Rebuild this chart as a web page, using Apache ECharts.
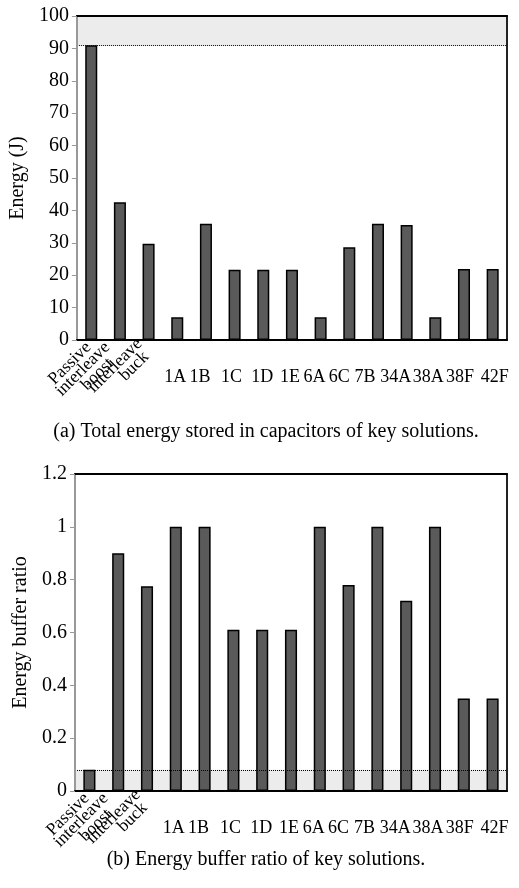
<!DOCTYPE html>
<html>
<head>
<meta charset="utf-8">
<script src="https://cdn.jsdelivr.net/npm/echarts@6/dist/echarts.min.js"></script>
<style>
html,body{margin:0;padding:0;background:#fff;}
#chart{width:519px;height:888px;}
</style>
</head>
<body>
<div id="chart"></div>
<script>
var categories = ['Passive', 'interleave\nboost', 'interleave\nbuck', '1A', '1B', '1C', '1D', '1E', '6A', '6C', '7B', '34A', '38A', '38F', '42F'];
var energy = [91, 42.5, 29.7, 7, 35.9, 21.7, 21.7, 21.7, 7, 28.6, 35.9, 35.5, 7, 21.9, 21.9];
var ratio = [0.08, 0.9, 0.775, 1, 1, 0.61, 0.61, 0.61, 1, 0.78, 1, 0.72, 1, 0.35, 0.35];
var energyLimit = 91;
var energyMax = 100;
var ratioLimit = 0.08;
var ratioMax = 1.2;
var captionA = '(a) Total energy stored in capacitors of key solutions.';
var captionB = '(b) Energy buffer ratio of key solutions.';
var nameA = 'Energy (J)';
var nameB = 'Energy buffer ratio';

// label styling (not data)
var FONT = 'Liberation Serif';
var FS = 20;
var FSR = 17.5;
var FSX = 18;
// paddings [top, right, bottom, left] for the three rotated labels
var rotPad = [[7, 4, 0, 0], [0, 11, 0, 0], [14, 6, 0, 0]];
// trailing no-break spaces to offset the second line of the rotated labels
var secondLinePad = ['', '\u00a0\u00a0', '\u00a0'];
// horizontal nudges (px) of the flat labels, negative = left
var flatShift = [0, 0, 0, -2, -6, -3, -1, -2, -6, -10, -13, -11, -7, -4, 2];

function rotFormatter(v, i) {
  if (i >= 3) return '';
  if (v.indexOf('\n') < 0) return v;
  var parts = v.split('\n');
  return parts[0] + '\n' + parts[1] + secondLinePad[i];
}
function flatFormatter(v, i) { return i < 3 ? '' : v; }

function rotData() {
  return categories.map(function (c, i) {
    return i < 3 ? { value: c, textStyle: { padding: rotPad[i] } } : c;
  });
}
function flatData() {
  return categories.map(function (c, i) {
    var s = flatShift[i];
    if (i < 3 || !s) return c;
    return { value: c, textStyle: { padding: s < 0 ? [0, -2 * s, 0, 0] : [0, 0, 0, 2 * s] } };
  });
}

function xAxes(g) {
  return [
    {
      gridIndex: g, type: 'category', data: rotData(), position: 'bottom', z: 10,
      axisLine: { show: true, lineStyle: { color: '#000', width: 2 } },
      axisTick: { show: false },
      axisLabel: {
        interval: 0, rotate: 45, margin: 2, formatter: rotFormatter,
        align: 'right', verticalAlign: 'top',
        fontFamily: FONT, fontSize: FSR, color: '#000', lineHeight: 14
      }
    },
    {
      gridIndex: g, type: 'category', data: flatData(), position: 'bottom', z: 10,
      axisLine: { show: false }, axisTick: { show: false },
      axisLabel: { interval: 0, margin: 28, formatter: flatFormatter, fontFamily: FONT, fontSize: FSX, color: '#000' }
    },
    {
      gridIndex: g, type: 'category', data: categories, position: 'top', z: 10,
      axisLine: { show: true, lineStyle: { color: '#000', width: 2 } },
      axisTick: { show: false }, axisLabel: { show: false }
    }
  ];
}

function yAxes(g, max, interval, name) {
  return [
    {
      gridIndex: g, type: 'value', min: 0, max: max, interval: interval, position: 'left', z: 10,
      name: name, nameLocation: 'middle', nameGap: 40,
      nameTextStyle: { fontFamily: FONT, fontSize: FS, color: '#000' },
      axisLine: { show: true, lineStyle: { color: '#999', width: 2 } },
      axisTick: { show: true, length: 5, lineStyle: { color: '#999', width: 1 } },
      axisLabel: { margin: 8, fontFamily: FONT, fontSize: FS, color: '#000' },
      splitLine: { show: false }
    },
    {
      gridIndex: g, type: 'value', min: 0, max: max, position: 'right', z: 10,
      axisLine: { show: true, lineStyle: { color: '#222', width: 2 } },
      axisTick: { show: false }, axisLabel: { show: false }, splitLine: { show: false }
    }
  ];
}

var barStyle = { color: '#5a5a5a', borderColor: '#000', borderWidth: 1.5 };

var option = {
  animation: false,
  backgroundColor: '#fff',
  grid: [
    { left: 75, width: 432, top: 16, height: 324 },
    { left: 75, width: 432, top: 474, height: 317 }
  ],
  xAxis: xAxes(0).concat(xAxes(1)),
  yAxis: yAxes(0, energyMax, 10, nameA).concat(yAxes(1, ratioMax, 0.2, nameB)),
  series: [
    {
      type: 'bar', xAxisIndex: 0, yAxisIndex: 0, data: energy, barWidth: '42%',
      itemStyle: barStyle,
      markArea: { silent: true, itemStyle: { color: '#ececec' }, data: [[{ yAxis: energyLimit }, { yAxis: energyMax }]] },
      markLine: { silent: true, symbol: 'none', label: { show: false },
        lineStyle: { color: '#000', type: 'dotted', width: 1 }, data: [{ yAxis: energyLimit }] }
    },
    {
      type: 'bar', xAxisIndex: 3, yAxisIndex: 2, data: ratio, barWidth: '42%',
      itemStyle: barStyle,
      markArea: { silent: true, itemStyle: { color: '#ececec' }, data: [[{ yAxis: 0 }, { yAxis: ratioLimit }]] },
      markLine: { silent: true, symbol: 'none', label: { show: false },
        lineStyle: { color: '#000', type: 'dotted', width: 1 }, data: [{ yAxis: ratioLimit }] }
    }
  ],
  graphic: [
    { type: 'text', x: 266, y: 432, style: { text: captionA, font: FS + 'px "' + FONT + '"', fill: '#000', textAlign: 'center', textVerticalAlign: 'middle' } },
    { type: 'text', x: 266, y: 860, style: { text: captionB, font: FS + 'px "' + FONT + '"', fill: '#000', textAlign: 'center', textVerticalAlign: 'middle' } }
  ]
};

var chart = echarts.init(document.getElementById('chart'), null, { renderer: 'canvas' });
chart.setOption(option);
</script>
</body>
</html>
